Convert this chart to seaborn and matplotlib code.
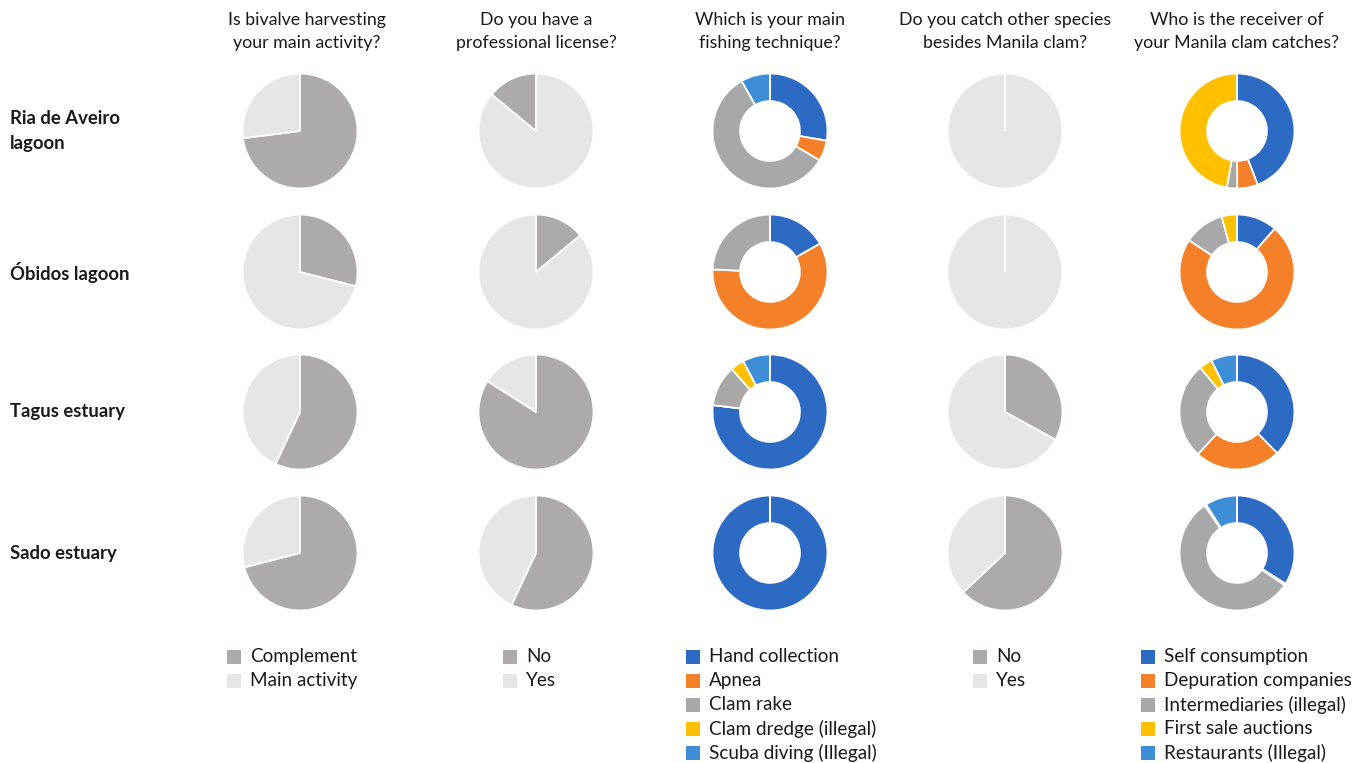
import matplotlib
matplotlib.use("Agg")
import matplotlib.pyplot as plt
from matplotlib.patches import Rectangle
import seaborn as sns

# ---------------- data ----------------
regions = ["Ria de Aveiro\nlagoon", "Óbidos lagoon", "Tagus estuary", "Sado estuary"]

titles = [
    "Is bivalve harvesting\nyour main activity?",
    "Do you have a\nprofessional license?",
    "Which is your main\nfishing technique?",
    "Do you catch other species\nbesides Manila clam?",
    "Who is the receiver of\nyour Manila clam catches?",
]

activity_labels = ["Complement", "Main activity"]
activity_complement = [73, 29, 57, 71]
activity_main = [27, 71, 43, 29]

license_labels = ["No", "Yes"]
license_no = [14, 14, 84, 57]
license_yes = [86, 86, 16, 43]
license_yes_first = [True, False, False, False]

technique_labels = ["Hand collection", "Apnea", "Clam rake",
                    "Clam dredge (illegal)", "Scuba diving (Illegal)"]
tech_hand = [27.7, 16.8, 77.0, 100.0]
tech_apnea = [5.8, 58.9, 0.0, 0.0]
tech_rake = [58.3, 24.3, 11.5, 0.0]
tech_dredge = [0.0, 0.0, 3.9, 0.0]
tech_scuba = [8.2, 0.0, 7.7, 0.0]

species_labels = ["No", "Yes"]
species_no = [0, 0, 33, 63]
species_yes = [100, 100, 67, 37]

receiver_labels = ["Self consumption", "Depuration companies",
                   "Intermediaries (illegal)", "First sale auctions",
                   "Restaurants (Illegal)"]
recv_self = [44.2, 11.4, 37.7, 34.0]
recv_depuration = [5.8, 72.9, 24.2, 0.5]
recv_intermediaries = [2.9, 11.4, 27.1, 56.0]
recv_first_sale = [47.2, 4.3, 3.7, 0.5]
recv_restaurants = [0.0, 0.0, 7.3, 9.0]

# ---------------- style ----------------
sns.set_theme(style="white")
plt.rcParams["font.family"] = ["Lato", "DejaVu Sans"]

GRAY_DARK = "#AEAAAA"
GRAY_LIGHT = "#E7E5E6"
office = ["#2D6AC4", "#F4812A", "#A8A8A8", "#FFC000", "#3D8ED6"]
two_gray = [GRAY_DARK, GRAY_LIGHT]
TXT = "#1a1a1a"

W, H = 1367, 763
fig = plt.figure(figsize=(W / 100, H / 100), dpi=100)
fig.patch.set_facecolor("white")

col_x = [300, 536, 770, 1005, 1237]
row_y = [131, 272, 412, 553]
R = 57.5
S = 130.0
pie_r = R / (S / 2)

def pie_axes(cx, cy):
    return fig.add_axes([(cx - S / 2) / W, 1 - (cy + S / 2) / H, S / W, S / H])

wedge_kw = dict(edgecolor="white", linewidth=1.3)

for r in range(4):
    cy = row_y[r]
    # column 1
    ax = pie_axes(col_x[0], cy)
    ax.pie([activity_complement[r], activity_main[r]], colors=two_gray,
           startangle=90, counterclock=False, radius=pie_r, wedgeprops=wedge_kw)
    # column 2
    ax = pie_axes(col_x[1], cy)
    if license_yes_first[r]:
        vals, cols = [license_yes[r], license_no[r]], [GRAY_LIGHT, GRAY_DARK]
    else:
        vals, cols = [license_no[r], license_yes[r]], two_gray
    ax.pie(vals, colors=cols, startangle=90, counterclock=False,
           radius=pie_r, wedgeprops=wedge_kw)
    # column 3
    ax = pie_axes(col_x[2], cy)
    ax.pie([tech_hand[r], tech_apnea[r], tech_rake[r], tech_dredge[r], tech_scuba[r]],
           colors=office, startangle=90, counterclock=False, radius=pie_r,
           wedgeprops=dict(width=pie_r * 0.48, **wedge_kw))
    # column 4
    ax = pie_axes(col_x[3], cy)
    ax.pie([species_no[r], species_yes[r]], colors=two_gray, startangle=90,
           counterclock=False, radius=pie_r, wedgeprops=wedge_kw)
    # column 5
    ax = pie_axes(col_x[4], cy)
    ax.pie([recv_self[r], recv_depuration[r], recv_intermediaries[r],
            recv_first_sale[r], recv_restaurants[r]],
           colors=office, startangle=90, counterclock=False, radius=pie_r,
           wedgeprops=dict(width=pie_r * 0.48, **wedge_kw))

for a in fig.axes:
    a.set_xlim(-1, 1)
    a.set_ylim(-1, 1)
    a.set_axis_off()
    # white separator at the 12 o'clock start of every pie
    a.plot([0, 0], [0, pie_r], color="white", linewidth=1.3, zorder=5,
           solid_capstyle="butt")

# column titles
title_x = [307, 536, 770, 1005, 1237]
for x, t in zip(title_x, titles):
    fig.text(x / W, 1 - 31.5 / H, t, ha="center", va="center", fontsize=12.8,
             color=TXT, linespacing=1.55)

# row labels
for y, lab in zip(row_y, regions):
    fig.text(10 / W, 1 - y / H, lab, ha="left", va="center", fontsize=13.3,
             fontweight="bold", color=TXT, linespacing=1.55)

# legends
legend_sets = [
    (227, activity_labels, two_gray),
    (503, license_labels, two_gray),
    (686, technique_labels, office),
    (973, species_labels, two_gray),
    (1141, receiver_labels, office),
]
box = 14
for x0, labels, cols in legend_sets:
    for i, (lab, c) in enumerate(zip(labels, cols)):
        y = 657 + 24 * i
        fig.patches.append(Rectangle((x0 / W, 1 - (y + box / 2) / H), box / W, box / H,
                                     transform=fig.transFigure, facecolor=c,
                                     edgecolor="none"))
        fig.text((x0 + 23) / W, 1 - (y - 2) / H, lab, ha="left", va="center_baseline",
                 fontsize=13.6, color=TXT)

fig.savefig("out.png", dpi=100, facecolor="white")
